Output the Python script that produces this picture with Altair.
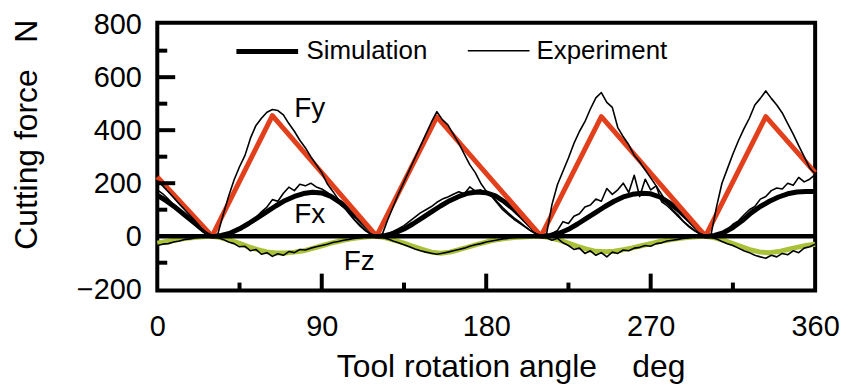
import altair as alt
import pandas as pd

FONT = "Liberation Sans"
RED = "#e2401c"
GREEN = "#a9c23a"
NB = "\u00a0"

# ---- simulation curves ----
SIM_FY_ANGLE = [0, 30, 63, 120, 153, 210, 243, 300, 333, 360]
SIM_FY = [224, 0, 455, 0, 450, 0, 451, 0, 451, 240]

SIM_ANGLE = list(range(0, 361, 5))
SIM_FX = [155, 133, 108, 80, 52, 24, 0,
          3, 12, 28, 48, 70, 93, 115, 135, 150, 161, 166, 163, 150, 128, 100, 68, 34, 0,
          3, 12, 27, 47, 69, 92, 114, 134, 150, 162, 167, 164, 152, 130, 102, 70, 35, 0,
          3, 11, 26, 46, 68, 90, 112, 132, 148, 158, 162, 160, 148, 127, 100, 68, 34, 0,
          3, 14, 33, 58, 88, 112, 132, 148, 160, 167, 169, 169]
SIM_FZ = [-26, -20, -14, -9, -5, -2, 0,
          -6, -16, -27, -40, -51, -59, -63, -63, -60, -55, -46, -36, -26, -18, -11, -6, -2, 0,
          -6, -16, -26, -38, -50, -60, -64, -60, -51, -41, -31, -22, -14, -9, -5, -3, -1, 0,
          -6, -15, -26, -38, -49, -57, -59, -57, -51, -44, -36, -28, -20, -14, -9, -5, -2, 0,
          -6, -16, -28, -40, -52, -60, -62, -58, -50, -42, -35, -30]

# ---- experimental curves ----
EXP_ANGLE = list(range(0, 361, 3))
EXP_FY = [210, 190, 168, 145, 122, 100, 78, 55, 32, 14, 4,
          5, 80, 150, 212, 262, 305, 370, 418, 445, 468,
          478, 474, 458, 425, 396, 362, 334, 300, 270, 240,
          198, 170, 140, 112, 85, 60, 38, 20, 7, 0,
          5, 60, 110, 160, 205, 250, 295, 340, 385, 430,
          470, 440, 420, 385, 350, 310, 270, 240, 200, 170,
          150, 125, 100, 82, 65, 50, 36, 22, 10, 2,
          8, 120, 195, 245, 295, 350, 395, 432, 480, 522,
          542, 505, 486, 410, 375, 345, 305, 280, 250, 220,
          190, 158, 124, 100, 80, 55, 35, 20, 8, 2,
          5, 110, 200, 255, 310, 360, 405, 445, 495, 520,
          548, 520, 495, 465, 425, 385, 342, 300, 258, 235]
EXP_FX = [175, 160, 140, 118, 98, 78, 58, 40, 22, 8, 2,
          0, 4, 12, 20, 30, 42, 55, 70, 92, 110,
          138, 132, 162, 185, 172, 196, 190, 200, 186, 178,
          165, 150, 128, 110, 88, 62, 42, 22, 8, 0,
          2, 8, 18, 28, 40, 56, 72, 88, 100, 112,
          128, 140, 148, 158, 168, 160, 186, 170, 175, 160,
          152, 130, 108, 88, 70, 55, 38, 22, 10, 2,
          2, 10, 22, 55, 48, 75, 85, 110, 118, 140,
          132, 180, 158, 175, 200, 165, 230, 150, 215, 175,
          190, 130, 115, 95, 75, 55, 38, 22, 10, 2,
          2, 5, 12, 25, 45, 58, 80, 100, 112, 140,
          150, 172, 182, 178, 200, 192, 222, 205, 215, 232]
EXP_FZ = [-35, -30, -28, -22, -18, -12, -10, -6, -4, -2, 0,
          -5, -12, -22, -28, -40, -38, -55, -50, -68, -62,
          -76, -66, -72, -58, -62, -50, -52, -45, -40, -35,
          -30, -24, -20, -15, -12, -8, -6, -3, -2, 0,
          -4, -10, -18, -25, -32, -40, -48, -55, -60, -64,
          -68, -64, -60, -55, -50, -45, -38, -32, -28, -22,
          -18, -14, -10, -8, -5, -4, -2, -1, 0, 0,
          -6, -15, -8, -25, -35, -50, -45, -65, -55, -72,
          -62, -78, -60, -65, -52, -55, -45, -42, -35, -38,
          -28, -25, -18, -15, -12, -8, -6, -3, -2, 0,
          -4, -10, -20, -28, -35, -45, -55, -62, -72, -78,
          -83, -72, -78, -65, -70, -55, -62, -45, -40, -30]

# ---- annotations and axis ticks ----
LABEL_TEXT = ["Fy", "Fx", "Fz"]
LABEL_X = [75, 75, 102]
LABEL_Y = [481, 80, -99]

Y_LABELS = [-200, 0, 200, 400, 600, 800]
X_LABELS = [0, 90, 180, 270, 360]
Y_TICK_MAJOR = [200, 400, 600]
Y_TICK_MINOR = [-100, 100, 300, 500, 700]
X_TICK_MAJOR = [90, 180, 270]
X_TICK_MINOR = [45, 135, 225, 315]
ZERO = [0]

X_TITLE = "Tool rotation angle" + NB * 4 + "deg"
Y_TITLE = "Cutting force" + NB * 3 + "N"

W, H = 661, 269


def frame(angles, values, series, kind):
    return pd.DataFrame({"angle": angles, "force": values, "series": series, "kind": kind})


sim = pd.concat([
    frame(SIM_ANGLE, SIM_FZ, "Fz", "Simulation"),
    frame(SIM_ANGLE, SIM_FX, "Fx", "Simulation"),
    frame(SIM_FY_ANGLE, SIM_FY, "Fy", "Simulation"),
])
exp = pd.concat([
    frame(EXP_ANGLE, EXP_FZ, "Fz", "Experiment"),
    frame(EXP_ANGLE, EXP_FX, "Fx", "Experiment"),
    frame(EXP_ANGLE, EXP_FY, "Fy", "Experiment"),
])

X_ENC = alt.X(
    "angle:Q",
    scale=alt.Scale(domain=[0, 360], nice=False, zero=False),
    axis=alt.Axis(values=X_LABELS, ticks=False, domain=False, grid=False,
                  labelFont=FONT, labelFontSize=29, labelColor="black",
                  labelPadding=22, labelFlush=False,
                  title=X_TITLE, titleFont=FONT,
                  titleFontSize=32, titleFontWeight="normal", titleColor="black",
                  titleX=355, titleY=86, titleBaseline="alphabetic"),
)
Y_ENC = alt.Y(
    "force:Q",
    scale=alt.Scale(domain=[-205, 805], nice=False, zero=False),
    axis=alt.Axis(values=Y_LABELS, ticks=False, domain=False, grid=False,
                  labelFont=FONT, labelFontSize=29, labelColor="black",
                  labelPadding=16,
                  title=Y_TITLE, titleFont=FONT, titleFontSize=32,
                  titleFontWeight="normal", titleColor="black",
                  titleX=-121, titleY=112, titleBaseline="alphabetic"),
)

LEGEND = alt.Legend(title=None, orient="none", legendX=77, legendY=-5,
                    direction="horizontal", symbolType="stroke", symbolSize=3844,
                    symbolStrokeColor="black", labelFont=FONT, labelFontSize=26,
                    labelColor="black", labelOffset=6, columnPadding=36,
                    labelLimit=300, padding=0)
SW = alt.StrokeWidth("kind:N",
                     scale=alt.Scale(domain=["Simulation", "Experiment"], range=[5, 1.6]),
                     legend=LEGEND)

sim_layer = alt.Chart(sim).mark_line(strokeJoin="round").encode(
    x=X_ENC, y=Y_ENC,
    color=alt.Color("series:N", scale=alt.Scale(domain=["Fy", "Fx", "Fz"],
                                               range=[RED, "black", GREEN]), legend=None),
    strokeWidth=SW,
    detail="series:N",
)
exp_layer = alt.Chart(exp).mark_line(color="black", strokeJoin="round").encode(
    x=X_ENC, y=Y_ENC, strokeWidth=SW, detail="series:N",
)

zero_layer = alt.Chart(pd.DataFrame({"force": ZERO})).mark_rule(
    color="black", strokeWidth=4.5).encode(y=Y_ENC)

yt_major = alt.Chart(pd.DataFrame({"force": Y_TICK_MAJOR})).mark_rule(
    color="black", strokeWidth=4).encode(y=Y_ENC, x=alt.value(0), x2=alt.value(18))
yt_minor = alt.Chart(pd.DataFrame({"force": Y_TICK_MINOR})).mark_rule(
    color="black", strokeWidth=4).encode(y=Y_ENC, x=alt.value(0), x2=alt.value(10))
xt_major = alt.Chart(pd.DataFrame({"angle": X_TICK_MAJOR})).mark_rule(
    color="black", strokeWidth=4).encode(x=X_ENC, y=alt.value(H), y2=alt.value(H - 17))
xt_minor = alt.Chart(pd.DataFrame({"angle": X_TICK_MINOR})).mark_rule(
    color="black", strokeWidth=4).encode(x=X_ENC, y=alt.value(H), y2=alt.value(H - 8))

labels = alt.Chart(pd.DataFrame({"angle": LABEL_X, "force": LABEL_Y, "t": LABEL_TEXT})).mark_text(
    font=FONT, fontSize=28, color="black", align="left", baseline="middle").encode(
    x=X_ENC, y=Y_ENC, text="t:N")

chart = alt.layer(
    sim_layer, exp_layer, zero_layer, yt_major, yt_minor, xt_major, xt_minor, labels
).properties(
    width=W, height=H,
    autosize=alt.AutoSizeParams(type="none"),
    padding={"left": 150, "top": 14, "right": 30, "bottom": 95},
    background="white",
).configure_view(stroke="black", strokeWidth=4)

chart.save("out.html", embed_options={"renderer": "svg", "actions": False})
